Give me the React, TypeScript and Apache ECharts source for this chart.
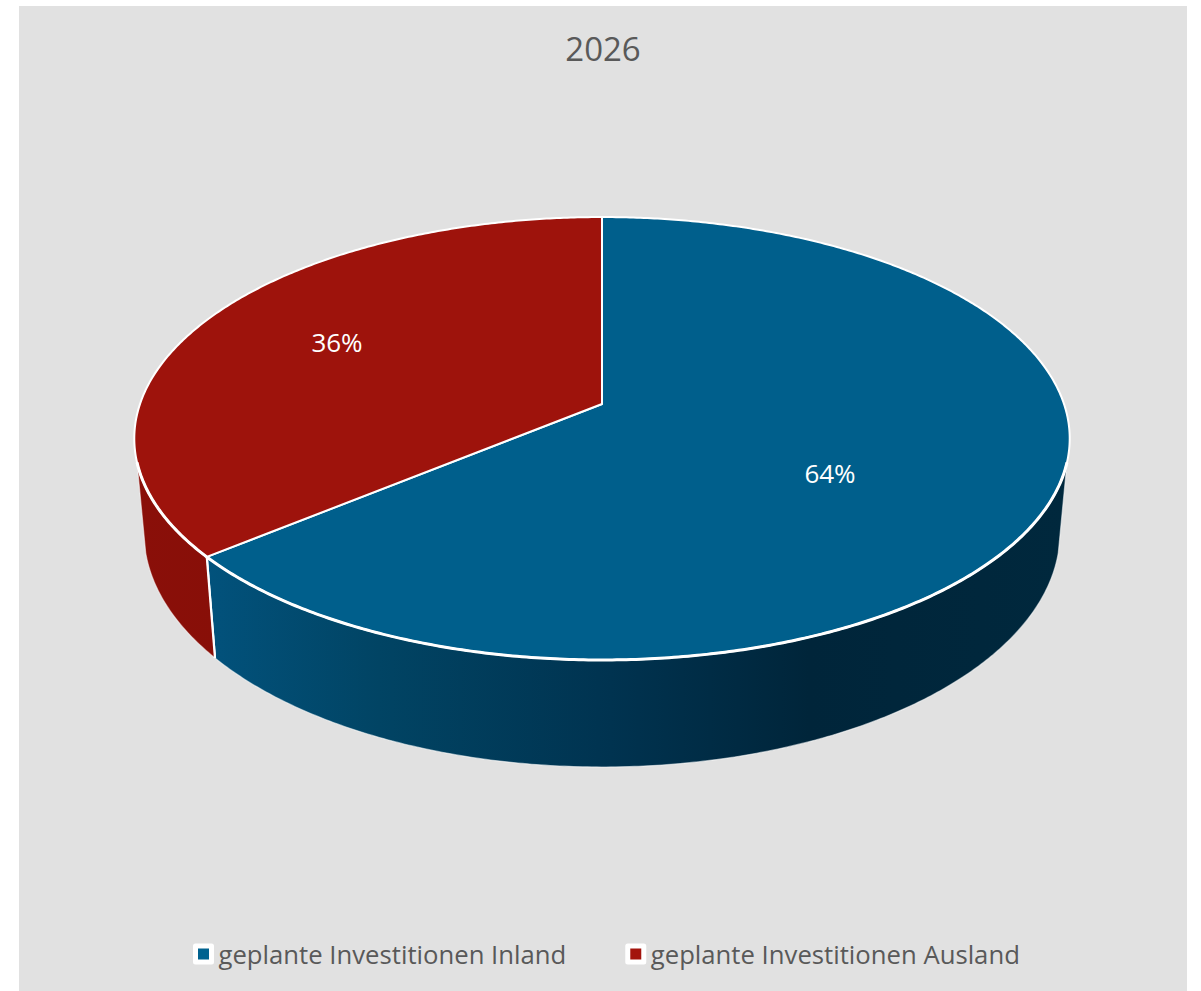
import React, { useEffect, useRef } from "react";
import * as echarts from "echarts";

const title = "2026";
const seriesNames = ["geplante Investitionen Inland", "geplante Investitionen Ausland"];
const shares = [64, 36];
const topColors = ["#005F8C", "#9E130C"];
const legendColors = ["#00628F", "#A3140D"];
const sideStops = [
  [[0, "#02527C"], [0.2, "#014464"], [0.47, "#003350"], [0.7, "#00253A"], [1, "#00283D"]],
  [[0, "#8A0F09"], [1, "#880F08"]],
];
const labelPositions = [[830, 473], [337, 342]];

// perspective projection of the pie disc (unit circle → screen)
const APEX_X = 602;
const APEX_Y = 404;
const PERSP = 0.1558;
const TOP_A = 462;
const TOP_B = 216.1;
const BOT_A = 452.4;
const BOT_B = 228.6;
const BOT_DY = 92.2;
const TOP_EDGE = [105, 255];
const BOT_EDGE = [103.8, 256.2];

function project(deg: number, bottom: boolean): number[] {
  const t = (deg * Math.PI) / 180;
  const u = Math.sin(t);
  const v = -Math.cos(t);
  const w = 1 - PERSP * v;
  return bottom
    ? [APEX_X + (BOT_A * u) / w, APEX_Y + BOT_DY + (BOT_B * v) / w]
    : [APEX_X + (TOP_A * u) / w, APEX_Y + (TOP_B * v) / w];
}

function arc(from: number, to: number, bottom: boolean): number[][] {
  const out: number[][] = [];
  const n = Math.max(2, Math.ceil(Math.abs(to - from) * 2));
  for (let i = 0; i <= n; i++) out.push(project(from + ((to - from) * i) / n, bottom));
  return out;
}

const total = shares.reduce((a, b) => a + b, 0);

function sliceRange(idx: number): number[] {
  let start = 0;
  for (let i = 0; i < idx; i++) start += (shares[i] / total) * 360;
  return [start, start + (shares[idx] / total) * 360];
}

function renderSlice(idx: number) {
  return (_params: any, api: any) => {
    const [start, end] = sliceRange(idx);
    const value = api.value(0);
    const children: any[] = [];
    const a = Math.max(start, TOP_EDGE[0]);
    const b = Math.min(end, TOP_EDGE[1]);
    if (a < b) {
      const a2 = Math.max(start, BOT_EDGE[0]);
      const b2 = Math.min(end, BOT_EDGE[1]);
      children.push({
        type: "polygon",
        shape: { points: [...arc(a, b, false), ...arc(b2, a2, true)] },
        style: {
          fill: {
            type: "linear",
            x: 0,
            y: 0,
            x2: 1,
            y2: 0,
            colorStops: sideStops[idx].map((s) => ({ offset: s[0], color: s[1] })),
          },
          stroke: "rgba(255,255,255,0.55)",
          lineWidth: 1.2,
        },
      });
      const seam = start >= a && start <= b ? start : end >= a && end <= b ? end : null;
      if (seam !== null) {
        children.push({
          type: "line",
          shape: {
            x1: project(seam, false)[0],
            y1: project(seam, false)[1],
            x2: project(seam, true)[0],
            y2: project(seam, true)[1],
          },
          style: { stroke: "#fff", lineWidth: 2.2 },
        });
      }
    }
    children.push({
      type: "polygon",
      shape: { points: [[APEX_X, APEX_Y], ...arc(start, end, false)] },
      style: { fill: topColors[idx], stroke: "#fff", lineWidth: 2, lineJoin: "round" },
    });
    if (a < b) {
      children.push({
        type: "polyline",
        shape: { points: arc(a, b, false) },
        style: { fill: "none", stroke: "#fff", lineWidth: 3 },
      });
    }
    children.push({
      type: "text",
      x: labelPositions[idx][0],
      y: labelPositions[idx][1],
      style: {
        text: `${value}%`,
        fill: "#fff",
        fontSize: 26,
        fontFamily: "Open Sans",
        align: "center",
        verticalAlign: "middle",
      },
    });
    return { type: "group", children };
  };
}

export default function App() {
  const ref = useRef<HTMLDivElement>(null);
  useEffect(() => {
    const chart = echarts.init(ref.current!, undefined, { renderer: "svg" });
    chart.setOption({
      animation: false,
      backgroundColor: "#fff",
      graphic: [
        {
          type: "rect",
          z: -1,
          shape: { x: 19, y: 6, width: 1168, height: 985 },
          style: { fill: "#E1E1E1" },
        },
      ],
      title: {
        text: title,
        left: 598,
        top: 27,
        textAlign: "center",
        textStyle: { color: "#595959", fontSize: 33, fontWeight: 400, fontFamily: "Open Sans" },
      },
      legend: {
        left: 193,
        top: 941,
        padding: 0,
        icon: "rect",
        itemWidth: 16,
        itemHeight: 16,
        itemGap: 59,
        data: seriesNames,
        itemStyle: { borderColor: "#fff", borderWidth: 5, borderJoin: "round" },
        textStyle: { color: "#595959", fontSize: 25.7, fontFamily: "Open Sans", padding: [0, 0, 0, 2] },
      },
      series: seriesNames.map((name, i) => ({
        type: "custom",
        name,
        coordinateSystem: "none",
        data: [[shares[i]]],
        itemStyle: { color: legendColors[i] },
        renderItem: renderSlice(i),
        silent: true,
      })),
    });
    return () => chart.dispose();
  }, []);
  return <div ref={ref} style={{ position: "fixed", left: 0, top: 0, width: 1201, height: 991 }} />;
}
